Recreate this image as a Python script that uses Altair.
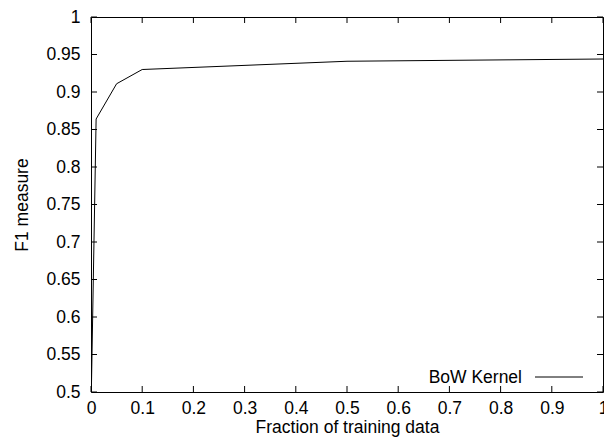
import altair as alt
import pandas as pd

# data
fraction = [0.001, 0.01, 0.05, 0.1, 0.5, 1.0]
f1 = [0.512, 0.864, 0.911, 0.930, 0.941, 0.944]

x_ticks = [0, 0.1, 0.2, 0.3, 0.4, 0.5, 0.6, 0.7, 0.8, 0.9, 1.0]
y_ticks = [0.5, 0.55, 0.6, 0.65, 0.7, 0.75, 0.8, 0.85, 0.9, 0.95, 1.0]

series_name = "BoW Kernel"
x_title = "Fraction of training data"
y_title = "F1 measure"

W, H = 512, 375
FONT = "Liberation Sans"
FS = 17.5

df = pd.DataFrame({"x": fraction, "y": f1})
xt = pd.DataFrame({"v": x_ticks})
yt = pd.DataFrame({"v": y_ticks})

xscale = alt.Scale(domain=[0, 1], nice=False, zero=False)
yscale = alt.Scale(domain=[0.5, 1], nice=False, zero=False)

xaxis = alt.Axis(values=x_ticks, format=".1~f", title=x_title,
                 labelPadding=7, titlePadding=2,
                 labelFlush=False, labelOverlap=False)
yaxis = alt.Axis(values=y_ticks, format=".2~f", title=y_title,
                 labelPadding=11, titlePadding=14,
                 labelFlush=False, labelOverlap=False)

line = alt.Chart(df).mark_line(color="black", strokeWidth=1, clip=True).encode(
    x=alt.X("x:Q", scale=xscale, axis=xaxis),
    y=alt.Y("y:Q", scale=yscale, axis=yaxis),
)

# inward ticks (gnuplot style) on all four sides
tick_bottom = alt.Chart(xt).mark_rule(color="black", strokeWidth=1).encode(
    x=alt.X("v:Q", scale=xscale, axis=xaxis), y=alt.value(H), y2=alt.value(H - 6))
tick_top = alt.Chart(xt).mark_rule(color="black", strokeWidth=1).encode(
    x=alt.X("v:Q", scale=xscale, axis=xaxis), y=alt.value(0), y2=alt.value(6))
tick_left = alt.Chart(yt).mark_rule(color="black", strokeWidth=1).encode(
    y=alt.Y("v:Q", scale=yscale, axis=yaxis), x=alt.value(0), x2=alt.value(6))
tick_right = alt.Chart(yt).mark_rule(color="black", strokeWidth=1).encode(
    y=alt.Y("v:Q", scale=yscale, axis=yaxis), x=alt.value(W), x2=alt.value(W - 6))

# legend (gnuplot style: label then line sample)
leg_df = pd.DataFrame({"name": [series_name]})
leg_text = alt.Chart(leg_df).mark_text(
    align="right", baseline="alphabetic", font=FONT, fontSize=FS, color="black"
).encode(text="name:N", x=alt.value(W - 81), y=alt.value(H - 9))
leg_line = alt.Chart(leg_df).mark_rule(color="black", strokeWidth=1).encode(
    x=alt.value(W - 68), x2=alt.value(W - 20), y=alt.value(H - 15))

chart = alt.layer(
    line, tick_bottom, tick_top, tick_left, tick_right, leg_text, leg_line
).properties(
    width=W, height=H,
    background="white",
    autosize=alt.AutoSizeParams(type="none"),
    padding={"left": 83, "top": 9, "right": 1, "bottom": 46},
).configure_view(
    stroke="black", strokeWidth=1
).configure_axis(
    domain=False, ticks=False, grid=False,
    labelFont=FONT, labelFontSize=FS, labelColor="black",
    titleFont=FONT, titleFontSize=FS, titleFontWeight="normal", titleColor="black",
)

chart.save("out.html", embed_options={"renderer": "svg", "actions": False})
